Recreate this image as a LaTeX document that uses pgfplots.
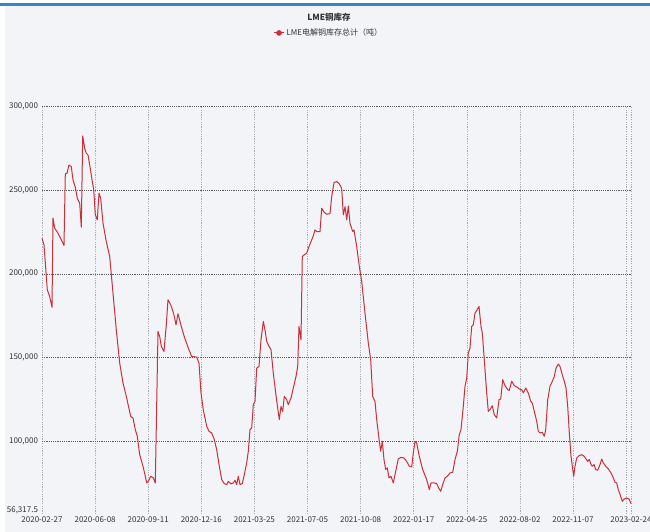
\documentclass[border=0pt]{standalone}
\usepackage{fontspec}
\setmainfont{Noto Sans CJK SC}
\usepackage{pgfplots}
\pgfplotsset{compat=1.18}
\definecolor{bgc}{HTML}{F2F4F7}
\definecolor{topblue}{HTML}{3A85C8}
\definecolor{linered}{HTML}{C8303C}
\definecolor{vgrid}{HTML}{A8ACB0}
\definecolor{hgrid}{HTML}{5A5A5A}
\definecolor{txt}{HTML}{333333}
\begin{document}
\begin{tikzpicture}[x=1pt,y=1pt]
\useasboundingbox (0,0) rectangle (650,532);
\fill[white] (0,0) rectangle (650,532);
\fill[bgc] (5,0) rectangle (650,526);
\fill[topblue] (0,526) rectangle (650,528.5);
\node[font=\bfseries\fontsize{8.5}{10}\selectfont, text=txt] at (329,515) {LME铜库存};
\begin{axis}[
  at={(42pt,18pt)}, anchor=south west,
  scale only axis, width=589pt, height=407.3pt,
  xmin=0, xmax=589, ymin=56317.5, ymax=300000,
  scaled y ticks=false, scaled x ticks=false,
  axis line style={draw=none},
  tick style={draw=none},
  xtick={0,53.1,106.2,159.3,212.4,265.5,318.6,371.7,424.8,477.9,531,584.1,589},
  xticklabels={2020-02-27,2020-06-08,2020-09-11,2020-12-16,2021-03-25,2021-07-05,2021-10-08,2022-01-17,2022-04-25,2022-08-02,2022-11-07,{},2023-02-24},
  ytick={100000,150000,200000,250000,300000},
  yticklabels={{100,000},{150,000},{200,000},{250,000},{300,000}},
  extra y ticks={56317.5},
  extra y tick labels={56{,}317.5},
  extra y tick style={grid=none, yticklabel style={yshift=4pt}},
  xmajorgrids, ymajorgrids,
  x grid style={color=vgrid, line width=0.6pt, dash pattern=on 1.2pt off 1.2pt},
  y grid style={color=hgrid, line width=0.5pt, dash pattern=on 1.2pt off 1pt},
  ticklabel style={font=\fontsize{8}{9}\selectfont, text=txt},
  yticklabel style={xshift=-0.5pt},
  xticklabel style={yshift=1pt},
  clip=false,
  legend style={draw=none, fill=none, at={(0.487,1.181)}, anchor=center,
    font=\fontsize{8}{9}\selectfont, text=txt, inner sep=0pt},
  legend image code/.code={\draw[#1] (0pt,0pt) -- (10pt,0pt); \fill[#1] (5pt,0pt) circle (2.3pt);},
]
\addplot[color=linered, line width=1pt, line join=round] coordinates {
(0,221300)(2,217300)(5.3,190400)(7.7,186400)(10,180000)(11,233300)(12.7,227300)(16,224300)(19.3,220300)(22,217000)
(23.3,259800)(25,260200)(27,265100)(29.3,264100)(31,256200)(33.3,251800)(35.3,245200)(37.7,242200)(39.3,227900)
(40.7,282500)(42.7,275100)(44.3,272100)(46,271100)(48.3,263100)(50,256200)(51.7,250600)(53.3,235300)(55.3,232300)
(57,248200)(58.7,245200)(61,230300)(64.3,219300)(67.7,210400)(71,188400)(74.3,166500)(77.7,146600)(81,134700)
(84.3,126700)(88.7,114700)(91,113800)(93.3,106800)(95.3,102800)(97.7,91800)(101,84900)(103.3,78900)(104.7,74900)
(106.7,76300)(108.7,78900)(111.3,77900)(113.3,74900)(116,165500)(117.7,162500)(119.3,156600)(122,153600)
(124.3,169500)(126,184500)(128.7,181500)(131,177500)(132.7,173500)(134,169500)(136,176100)(139.3,168500)
(142.7,161600)(146.3,155600)(149.7,150600)(154.7,150200)(157,146600)(159,128700)(161.3,118700)(164.7,108800)
(167,105800)(169.7,104800)(172.3,100800)(174.7,94800)(177.3,84900)(179.7,76900)(182.3,74500)(184.7,73900)
(186.3,75900)(189,74300)(191.3,74900)(193,76500)(194.7,73900)(196.3,78900)(198,73900)(200.3,74500)(202.3,79900)
(204.7,86900)(206.3,93800)(208,106800)(209.7,107800)(211.3,121700)(213,123700)(214.7,143600)(217,144600)
(219,160600)(221.3,171500)(223,166500)(224.7,159600)(227,156600)(229,154600)(231.3,140600)(233.7,128700)
(235.7,119700)(237.3,112800)(239,120700)(240.7,117700)(242.3,126700)(244.7,124700)(246.3,121700)(249,125700)
(251.3,131700)(254,138600)(255.7,144600)(257,168500)(259,160600)(260.3,210400)(262.3,211400)(264.7,212400)
(267,216300)(269,219300)(271.3,222700)(273,226300)(274.7,225300)(278,225300)(279.7,239200)(282.3,236700)
(284.7,235700)(288,236000)(289.7,246200)(292,254600)(294.7,255200)(297.3,253800)(299.7,251200)(301.3,235300)
(303,240200)(304.7,232300)(306.3,240600)(308,230300)(310.7,225300)(312,226300)(314.7,216300)(317.3,204400)
(319.7,195400)(323,176500)(326.3,158600)(328.7,148600)(330.7,126700)(333,123700)(334.7,112800)(337.3,99800)
(338.7,93800)(340.3,99800)(342,88900)(343.7,82900)(345.3,83900)(347,77900)(349,78900)(351.3,74900)(353.7,81900)
(356.3,89200)(359,90200)(362,89800)(364.7,87800)(367.3,84900)(369.7,84500)(371.3,92800)(373,99800)(374.7,98800)
(377.3,90800)(380.7,82900)(384.7,76900)(387.3,70900)(389,74900)(392,74900)(394.7,74500)(396.7,71900)(398.7,69900)
(400.7,73900)(403,77900)(405.3,78900)(408,80900)(410.7,81300)(413,88900)(415.3,93800)(417.3,103800)(419,106800)
(421.3,120700)(423,132700)(424.7,137600)(426.3,152600)(428,155600)(429.7,168500)(431.3,169500)(433,176500)
(434.7,178100)(437,180500)(439,168500)(440.3,164500)(442.3,148600)(444.7,128700)(446.3,117700)(448,118700)
(450.3,121100)(452.3,115700)(454.7,113800)(457,124700)(458.7,125100)(460.7,136700)(463,133100)(465.7,130700)
(467.3,130300)(469.7,135700)(472.3,133100)(474.7,132300)(477.3,131100)(479.7,130700)(481.3,128700)(483.7,131700)
(486.3,128700)(488.7,123700)(490.3,122700)(492.3,117700)(494.7,111800)(496.3,105800)(498,104800)(500.3,105200)
(502.3,102800)(503.7,106800)(505.7,124700)(508,132700)(510.3,135700)(512.3,138600)(514,143600)(516.3,146000)
(518,144600)(520.3,139600)(522.3,135700)(524,131700)(525.7,120700)(527.3,104800)(529,90800)(530.3,84900)
(531.7,78900)(533,84900)(534.7,89800)(537,91200)(539.7,91800)(542.3,90800)(544,89200)(545.7,87800)(547.3,88900)
(549,85900)(550.3,84900)(552,85900)(553.7,82900)(555.7,82500)(558,85900)(559.7,89200)(561.3,86900)(563.7,84900)
(566.3,83300)(569,80900)(571.3,77900)(573,75300)(574.7,74900)(576.3,70900)(578.7,66900)(580.3,63900)(582.3,65300)
(584.7,65900)(587,65300)(589,62500)
};
\addlegendentry{LME电解铜库存总计（吨）}
\end{axis}
\end{tikzpicture}
\end{document}
